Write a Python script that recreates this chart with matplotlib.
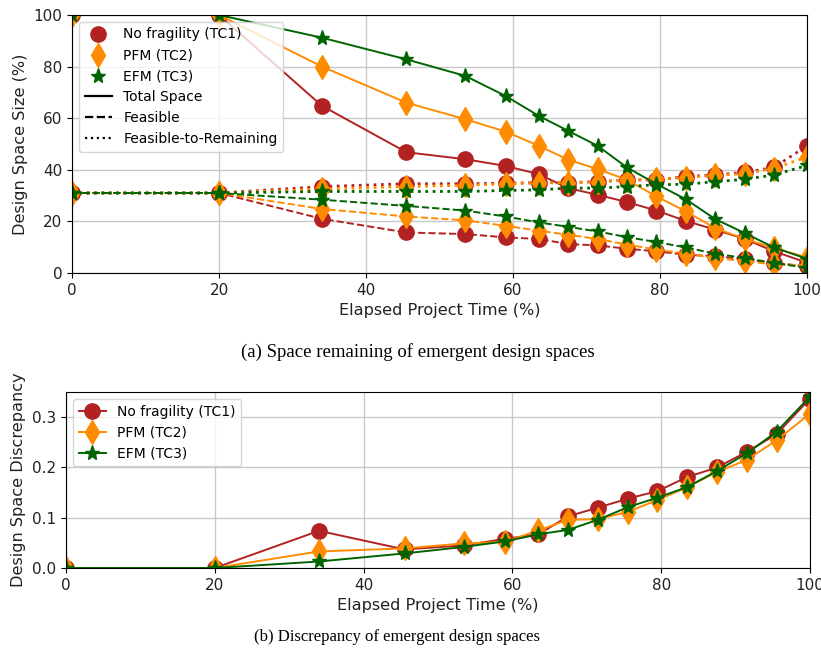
import matplotlib
matplotlib.use("Agg")
import matplotlib.pyplot as plt
from matplotlib.lines import Line2D

time = [0, 20, 34, 45.5, 53.5, 59, 63.5, 67.5, 71.5, 75.5, 79.5, 83.5, 87.5, 91.5, 95.5, 100]

total_tc1 = [100, 100, 64.8, 46.8, 44.1, 41.5, 38.3, 32.9, 30.3, 27.5, 24.2, 20.2, 16.8, 13.2, 8.4, 4.0]
total_tc2 = [100, 100, 80.0, 66.0, 59.6, 54.8, 49.3, 43.9, 40.3, 36.1, 29.7, 23.9, 17.4, 13.2, 9.7, 6.0]
total_tc3 = [100, 100, 91.2, 82.8, 76.4, 68.6, 60.9, 55.1, 49.3, 40.9, 34.5, 28.6, 20.9, 15.5, 9.9, 5.5]

feas_tc1 = [31, 31, 21.0, 15.7, 15.1, 13.8, 13.2, 11.2, 10.7, 9.4, 8.4, 7.1, 6.5, 5.4, 3.9, 2.6]
feas_tc2 = [31, 31, 24.8, 21.9, 20.4, 18.3, 16.4, 14.8, 13.2, 11.0, 9.1, 7.5, 5.8, 4.6, 3.3, 3.0]
feas_tc3 = [31, 31, 28.4, 26.0, 24.2, 21.9, 19.6, 17.9, 16.1, 13.9, 12.0, 9.9, 7.5, 5.8, 3.9, 2.0]

ftr_tc1 = [31, 31, 33.5, 34.6, 34.6, 34.8, 35.0, 35.0, 35.4, 36.0, 36.1, 37.4, 38.0, 39.0, 40.9, 49.3]
ftr_tc2 = [31, 31, 32.5, 33.5, 34.0, 34.5, 35.0, 35.0, 35.4, 36.0, 36.5, 37.0, 37.8, 38.5, 40.5, 45.0]
ftr_tc3 = [31, 31, 31.6, 31.6, 31.6, 32.0, 32.2, 32.9, 32.9, 33.5, 34.2, 34.4, 35.4, 36.3, 38.0, 41.7]

disc_tc1 = [0, 0, 0.074, 0.037, 0.045, 0.058, 0.067, 0.103, 0.120, 0.138, 0.153, 0.181, 0.200, 0.231, 0.266, 0.337]
disc_tc2 = [0, 0, 0.033, 0.039, 0.049, 0.052, 0.075, 0.096, 0.097, 0.112, 0.135, 0.161, 0.191, 0.215, 0.254, 0.307]
disc_tc3 = [0, 0, 0.013, 0.029, 0.042, 0.053, 0.067, 0.076, 0.096, 0.121, 0.140, 0.161, 0.193, 0.228, 0.271, 0.341]

labels = ["No fragility (TC1)", "PFM (TC2)", "EFM (TC3)"]
colors = ["#b22222", "#ff8c00", "#006400"]
markers = ["o", "d", "*"]
msizes = [11, 12, 11]

fig = plt.figure(figsize=(8.21, 6.52), dpi=100)
ax1 = fig.add_axes([0.0877, 0.5813, 0.8953, 0.3957])
ax2 = fig.add_axes([0.0804, 0.1288, 0.9062, 0.2699])

tot = [total_tc1, total_tc2, total_tc3]
fea = [feas_tc1, feas_tc2, feas_tc3]
ftr = [ftr_tc1, ftr_tc2, ftr_tc3]
for i in range(3):
    kw = dict(color=colors[i], marker=markers[i], markersize=msizes[i], lw=1.4)
    ax1.plot(time, tot[i], ls="-", **kw)
    ax1.plot(time, fea[i], ls="--", **kw)
    ax1.plot(time, ftr[i], ls=":", lw=2, color=colors[i], marker=markers[i], markersize=msizes[i])

ax1.set_xlim(0, 100)
ax1.set_ylim(0, 100)
ax1.set_xticks([0, 20, 40, 60, 80, 100])
ax1.set_yticks([0, 20, 40, 60, 80, 100])
ax1.grid(True, color="#c8c8c8", lw=1)
ax1.set_axisbelow(True)
ax1.set_xlabel("Elapsed Project Time (%)", fontsize=11.6, color="#222222")
ax1.set_ylabel("Design Space Size (%)", fontsize=11.6, color="#222222")
ax1.tick_params(labelsize=11, labelcolor="#222222")

handles = [Line2D([], [], ls="none", marker=markers[i], color=colors[i], markersize=msizes[i]) for i in range(3)]
handles += [Line2D([], [], color="black", ls="-", lw=1.6),
            Line2D([], [], color="black", ls="--", lw=1.6),
            Line2D([], [], color="black", ls=":", lw=1.6)]
ax1.legend(handles, labels + ["Total Space", "Feasible", "Feasible-to-Remaining"],
           loc="upper left", fontsize=10, framealpha=0.8)

disc = [disc_tc1, disc_tc2, disc_tc3]
for i in range(3):
    ax2.plot(time, disc[i], color=colors[i], marker=markers[i], markersize=msizes[i], lw=1.4, label=labels[i])
ax2.set_xlim(0, 100)
ax2.set_ylim(0, 0.35)
ax2.set_xticks([0, 20, 40, 60, 80, 100])
ax2.set_yticks([0.0, 0.1, 0.2, 0.3])
ax2.grid(True, color="#c8c8c8", lw=1)
ax2.set_axisbelow(True)
ax2.set_xlabel("Elapsed Project Time (%)", fontsize=11.6, color="#222222")
ax2.set_ylabel("Design Space Discrepancy", fontsize=11.6, color="#222222")
ax2.tick_params(labelsize=11, labelcolor="#222222")
ax2.legend(loc="upper left", fontsize=10, framealpha=0.8)

fig.text(418 / 821, 1 - 352 / 652, "(a) Space remaining of emergent design spaces",
         ha="center", va="center", fontsize=13.5, family="Liberation Serif")
fig.text(397 / 821, 1 - 637 / 652, "(b) Discrepancy of emergent design spaces",
         ha="center", va="center", fontsize=12, family="Liberation Serif")

fig.savefig("out.png", dpi=100)
